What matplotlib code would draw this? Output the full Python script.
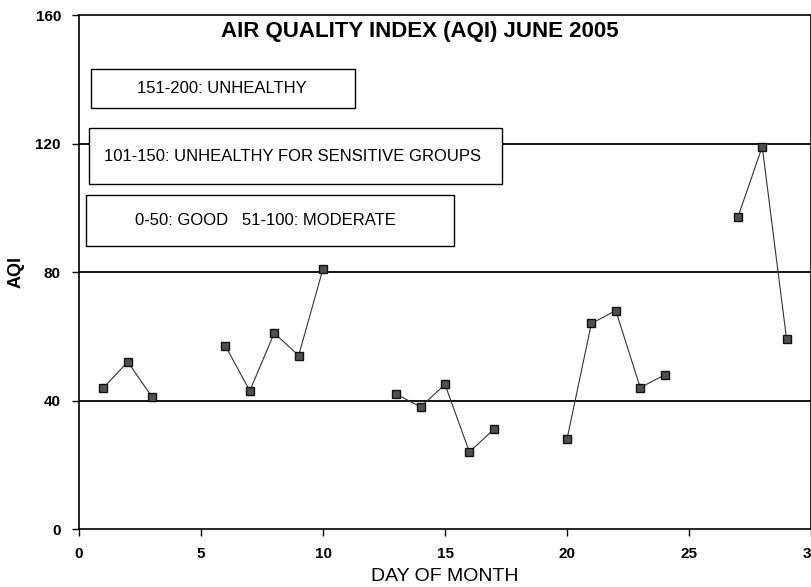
import numpy as np
import matplotlib
matplotlib.use("Agg")
import matplotlib.pyplot as plt
from matplotlib.patches import Rectangle

# AQI readings for June 2005 (NaN = no reading, breaks the line)
days = np.arange(1, 30)
aqi = [44, 52, 41, np.nan, np.nan, 57, 43, 61, 54, 81,
       np.nan, np.nan, 42, 38, 45, 24, 31, np.nan, np.nan, 28,
       64, 68, 44, 48, np.nan, np.nan, 97, 119, 59]

x_ticks = [0, 5, 10, 15, 20, 25, 30]
y_ticks = [0, 40, 80, 120, 160]
grid_levels = [40, 80, 120]

categories = ["151-200: UNHEALTHY",
              "101-150: UNHEALTHY FOR SENSITIVE GROUPS",
              "0-50: GOOD   51-100: MODERATE"]

plt.rcParams['font.family'] = ['Liberation Sans', 'DejaVu Sans']

fig = plt.figure(figsize=(8.12, 5.87), dpi=100)
ax = fig.add_axes([0.0973, 0.0988, 0.9015, 0.8756])

for lvl in grid_levels:
    ax.axhline(lvl, color="black", lw=1.3, zorder=1)

ax.plot(days, aqi, color="#333333", lw=0.8, marker="s", markersize=6,
        markerfacecolor="#505050", markeredgecolor="#111111", zorder=3)

# category boxes (axes fraction): x0, y0, w, h, text x, text y
boxes = [(0.0164, 0.819, 0.361, 0.076, 0.195, 0.857),
         (0.0137, 0.671, 0.564, 0.109, 0.291, 0.724),
         (0.0096, 0.551, 0.503, 0.099, 0.254, 0.601)]
for label, (bx, by, bw, bh, tx, ty) in zip(categories, boxes):
    ax.add_patch(Rectangle((bx, by), bw, bh, transform=ax.transAxes,
                           facecolor="white", edgecolor="black", lw=1.0, zorder=4))
    ax.text(tx, ty, label, transform=ax.transAxes, ha="center", va="center",
            fontsize=12, zorder=5)

ax.text(0.465, 0.967, "AIR QUALITY INDEX (AQI) JUNE 2005", transform=ax.transAxes,
        ha="center", va="center", fontsize=16, fontweight="bold", zorder=5)

ax.set_xlim(0, 30)
ax.set_ylim(0, 160)
ax.set_xticks(x_ticks)
ax.set_yticks(y_ticks)
ax.tick_params(direction="out", length=5, width=1, labelsize=11)
for lab in ax.get_xticklabels() + ax.get_yticklabels():
    lab.set_fontweight("bold")
ax.tick_params(axis="x", pad=8)
ax.tick_params(axis="y", pad=8)

ax.set_xlabel("DAY OF MONTH", fontsize=14, labelpad=5)
ax.set_ylabel("AQI", fontsize=13, fontweight="bold", labelpad=8)

for sp in ax.spines.values():
    sp.set_linewidth(1.2)

fig.savefig("out.png", dpi=100)
